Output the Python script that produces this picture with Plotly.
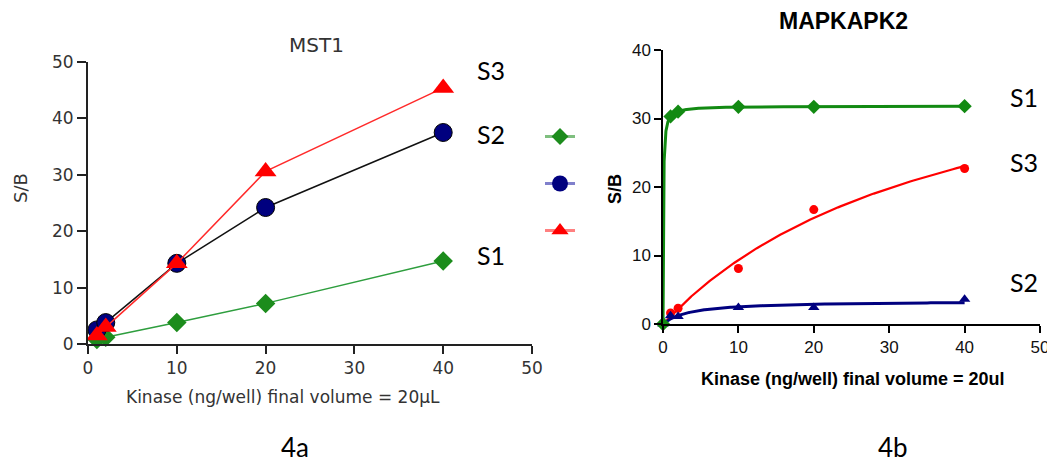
import numpy as np
import plotly.graph_objects as go

# ---------------- data ----------------
# Panel 4a : MST1
mst1_x = [1, 2, 10, 20, 40]
mst1_s1 = [0.8, 1.2, 3.8, 7.2, 14.7]
mst1_s2 = [2.5, 3.8, 14.3, 24.2, 37.5]
mst1_s3 = [1.5, 3.0, 14.3, 30.6, 45.4]

# Panel 4b : MAPKAPK2
mk2_x = [0, 1, 2, 10, 20, 40]
mk2_s1 = [0, 30.3, 31.0, 31.7, 31.7, 31.8]
mk2_s2 = [0, 1.2, 1.1, 2.4, 2.4, 3.6]
mk2_s3 = [0, 1.6, 2.3, 8.1, 16.7, 22.7]

series_names = ["S1", "S2", "S3"]
left_ticks = [0, 10, 20, 30, 40, 50]
right_yticks = [0, 10, 20, 30, 40]


def hyperbola_fit(x, y):
    """One-site hyperbolic fit y = Bmax*x/(Kd+x) by grid search on Kd."""
    x = np.asarray(x, float)
    y = np.asarray(y, float)
    best = None
    for kd in np.geomspace(1e-3, 1e3, 4000):
        f = x / (kd + x)
        bmax = (f @ y) / (f @ f)
        err = np.sum((y - bmax * f) ** 2)
        if best is None or err < best[0]:
            best = (err, bmax, kd)
    return best[1], best[2]


xfit = np.concatenate([[0.0], np.geomspace(1e-3, 40, 800)])

GREEN = "#1c8c1c"
NAVY = "#00007f"
RED = "#ff0000"

fig = go.Figure()

# ---------- left panel ----------
fig.add_trace(go.Scatter(x=mst1_x, y=mst1_s1, mode="lines+markers", xaxis="x", yaxis="y",
                         line=dict(color="#2e9e3e", width=1.5),
                         marker=dict(symbol="diamond", size=15, color=GREEN),
                         cliponaxis=False, showlegend=False))
fig.add_trace(go.Scatter(x=mst1_x, y=mst1_s2, mode="lines+markers", xaxis="x", yaxis="y",
                         line=dict(color="#111111", width=1.5),
                         marker=dict(symbol="circle", size=18, color=NAVY,
                                     line=dict(color="#000000", width=1)),
                         cliponaxis=False, showlegend=False))
fig.add_trace(go.Scatter(x=mst1_x, y=mst1_s3, mode="lines+markers", xaxis="x", yaxis="y",
                         line=dict(color="#ff2a2a", width=1.5),
                         marker=dict(symbol="triangle-up", size=19, color=RED),
                         cliponaxis=False, showlegend=False))

# ---------- right panel ----------
right_series = [(mk2_s3, RED, "circle", 9, 2.2),
                (mk2_s2, NAVY, "triangle-up", 10, 3),
                (mk2_s1, "#128a12", "diamond", 11, 3)]
for ys, col, sym, msize, lw in right_series:
    bmax, kd = hyperbola_fit(mk2_x, ys)
    fig.add_trace(go.Scatter(x=xfit, y=bmax * xfit / (kd + xfit), mode="lines",
                             xaxis="x2", yaxis="y2", line=dict(color=col, width=lw),
                             cliponaxis=False, showlegend=False, hoverinfo="skip"))
    fig.add_trace(go.Scatter(x=mk2_x, y=ys, mode="markers", xaxis="x2", yaxis="y2",
                             marker=dict(symbol=sym, size=msize, color=col),
                             cliponaxis=False, showlegend=False))

# ---------- legend keys (no text) ----------
legend_styles = [("#7fbf7f", GREEN, "diamond", 13),
                 ("#8080cc", NAVY, "circle", 16),
                 ("#ff8080", RED, "triangle-up", 15)]
for name, (lc, mc, sym, ms) in zip(series_names, legend_styles):
    fig.add_trace(go.Scatter(x=[None], y=[None], mode="lines+markers", name=" ",
                             legendgroup=name, xaxis="x", yaxis="y",
                             line=dict(color=lc, width=3),
                             marker=dict(symbol=sym, size=ms, color=mc),
                             showlegend=True))

# the page body has an 8px margin; the figure is sized to fill the rest
OFF = 8
W, H = 1055 - OFF, 464 - OFF


def px(xp):
    return (xp - OFF) / W


def py(yp):
    return 1 - (yp - OFF) / H


left_axis_font = dict(family="DejaVu Sans", size=17, color="#333333")
right_axis_font = dict(family="Liberation Sans, Arial", size=17, color="#111111")

fig.update_layout(
    width=W, height=H,
    margin=dict(l=0, r=0, t=0, b=0, autoexpand=False),
    paper_bgcolor="white", plot_bgcolor="white",
    showlegend=True,
    legend=dict(x=px(540), y=py(122), xanchor="left", yanchor="top",
                font=dict(size=10), tracegroupgap=28, bgcolor="rgba(0,0,0,0)",
                itemclick=False, itemdoubleclick=False),
    xaxis=dict(domain=[px(88), px(532)], range=[0, 50], tickvals=left_ticks,
               showline=True, linecolor="#222222", linewidth=2, ticks="outside",
               ticklen=8, tickwidth=2, tickcolor="#222222", showgrid=False,
               zeroline=False, tickfont=left_axis_font, anchor="y", automargin=False),
    yaxis=dict(domain=[py(344), py(62)], range=[0, 50], tickvals=left_ticks,
               showline=True, linecolor="#222222", linewidth=2, ticks="outside",
               ticklen=9, tickwidth=2, tickcolor="#222222", showgrid=False,
               zeroline=False, tickfont=left_axis_font, anchor="x", automargin=False),
    xaxis2=dict(domain=[px(663), px(1040)], range=[0, 50], tickvals=left_ticks,
                showline=True, linecolor="#000000", linewidth=1.5, ticks="outside",
                ticklen=7, tickwidth=1.5, tickcolor="#000000", showgrid=False,
                zeroline=False, tickfont=right_axis_font, anchor="y2", automargin=False),
    yaxis2=dict(domain=[py(324), py(50)], range=[0, 40], tickvals=right_yticks,
                showline=True, linecolor="#000000", linewidth=1.5, ticks="outside",
                ticklen=7, tickwidth=1.5, tickcolor="#000000", showgrid=False,
                zeroline=False, tickfont=right_axis_font, anchor="x2", automargin=False),
)

ann = []


def add_text(text, xp, yp, font, angle=0):
    ann.append(dict(text=text, x=px(xp), y=py(yp), xref="paper", yref="paper",
                    xanchor="center", yanchor="middle", showarrow=False,
                    font=font, textangle=angle))


label_font = dict(family="Lato, Open Sans", size=25, color="#000000")
# left panel texts
add_text("MST1", 316, 45, dict(family="DejaVu Sans", size=20, color="#333333"))
add_text("S/B", 20, 188, dict(family="DejaVu Sans", size=18, color="#333333"), -90)
add_text("Kinase (ng/well) final volume = 20µL", 283, 397,
         dict(family="DejaVu Sans", size=17, color="#333333"))
add_text(series_names[2], 491, 70, label_font)
add_text(series_names[1], 491, 134, label_font)
add_text(series_names[0], 491, 255, label_font)
add_text("4a", 295, 447, dict(family="Lato, Open Sans", size=26, color="#000000"))
# right panel texts
add_text("<b>MAPKAPK2</b>", 843, 21, dict(family="Liberation Sans, Arial", size=23, color="#000000"))
add_text("<b>S/B</b>", 615, 189, dict(family="Liberation Sans, Arial", size=18, color="#000000"), -90)
add_text("<b>Kinase (ng/well) final volume = 20ul</b>", 853, 379,
         dict(family="Liberation Sans, Arial", size=18, color="#000000"))
add_text(series_names[0], 1024, 97, label_font)
add_text(series_names[2], 1024, 162, label_font)
add_text(series_names[1], 1024, 282, label_font)
add_text("4b", 893, 447, dict(family="Lato, Open Sans", size=26, color="#000000"))

fig.update_layout(annotations=ann)

fig.write_html("out.html")
